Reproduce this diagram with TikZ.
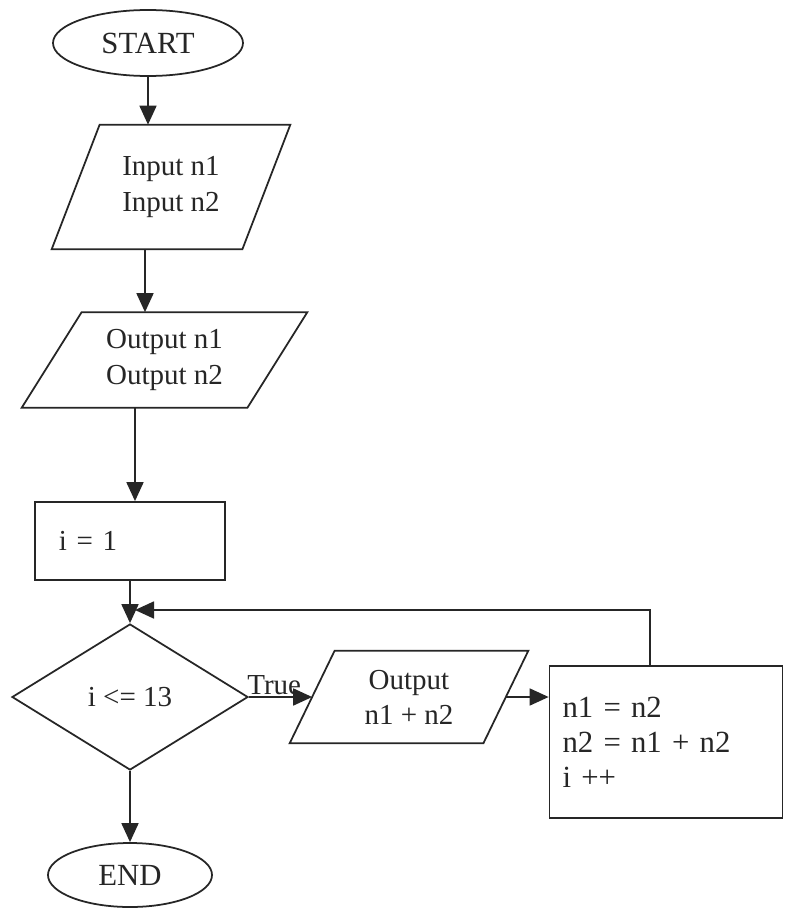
\documentclass[tikz,border=0pt]{standalone}
\usepackage{fontspec}
\setmainfont{Liberation Serif}
\usetikzlibrary{shapes.geometric,arrows.meta}
\begin{document}
\begin{tikzpicture}[x=0.2mm,y=-0.2mm,
  txt/.style={font=\fontsize{16.5}{20}\selectfont, text=black!85},
  shp/.style={txt, draw=black!85, line width=1pt},
  line/.style={draw=black!85, line width=1pt},
  term/.style={shp, ellipse, inner sep=0pt},
  iobox/.style={txt, rectangle, align=center, inner sep=0pt},
  proc/.style={shp, rectangle, align=left},
  dec/.style={shp, diamond, inner sep=0pt},
  arr/.style={line, -{Triangle[length=3.8mm,width=3.4mm]}},
  lbl/.style={txt, inner sep=1pt}]
\useasboundingbox (0,0) rectangle (785,909);
\fill[white] (0,0) rectangle (785,909);

\node[term, minimum width=38mm, minimum height=13.2mm, font=\fontsize{17.5}{20}\selectfont] (start) at (148,43) {START};

\node[iobox, minimum width=47.6mm, minimum height=24.8mm] (in) at (171,187) {Input n1\\Input n2};
\draw[line] ([xshift=9.6mm]in.north west) -- (in.north east) -- ([xshift=-9.6mm]in.south east) -- (in.south west) -- cycle;

\node[iobox, minimum width=57mm, minimum height=19mm] (out) at (164.5,360) {Output n1\\Output n2};
\draw[line] ([xshift=12mm]out.north west) -- (out.north east) -- ([xshift=-12mm]out.south east) -- (out.south west) -- cycle;

\node[proc, text width=28.4mm, inner xsep=4.8mm, minimum height=15.6mm] (init) at (130,541) {i = 1};
\node[dec, minimum width=47.2mm, minimum height=29.2mm] (dia) at (130,697) {i <= 13};
\node[term, minimum width=32.8mm, minimum height=12.8mm, font=\fontsize{17.5}{20}\selectfont] (end) at (130,875) {END};

\node[iobox, minimum width=47.6mm, minimum height=18.4mm] (out2) at (409,697) {Output\\n1 + n2};
\draw[line] ([xshift=9mm]out2.north west) -- (out2.north east) -- ([xshift=-9mm]out2.south east) -- (out2.south west) -- cycle;

\node[proc, text width=41.4mm, inner xsep=2.6mm, minimum height=30.4mm, font=\fontsize{17.5}{7mm}\selectfont] (upd) at (666,742) {n1 = n2\\n2 = n1 + n2\\i ++};
\coordinate (j) at (135,610);

\draw[arr] (start.south) -- (start.south |- in.north);
\draw[arr] ([xshift=-5.2mm]in.south) -- ([xshift=-5.2mm]in.south |- out.north);
\draw[arr] ([xshift=-5.9mm]out.south) -- ([xshift=-5.9mm]out.south |- init.north);
\draw[arr] (init.south) -- (dia.north);
\draw[arr] ([xshift=-3.2mm]upd.north) |- (j);
\draw[arr] (dia.east) -- node[lbl, pos=0.4, anchor=south] {True} ([xshift=4.5mm]out2.west);
\draw[arr] ([xshift=-4.5mm]out2.east) -- (out2.east -| upd.west);
\draw[arr] (dia.south) -- (end.north);
\end{tikzpicture}
\end{document}
